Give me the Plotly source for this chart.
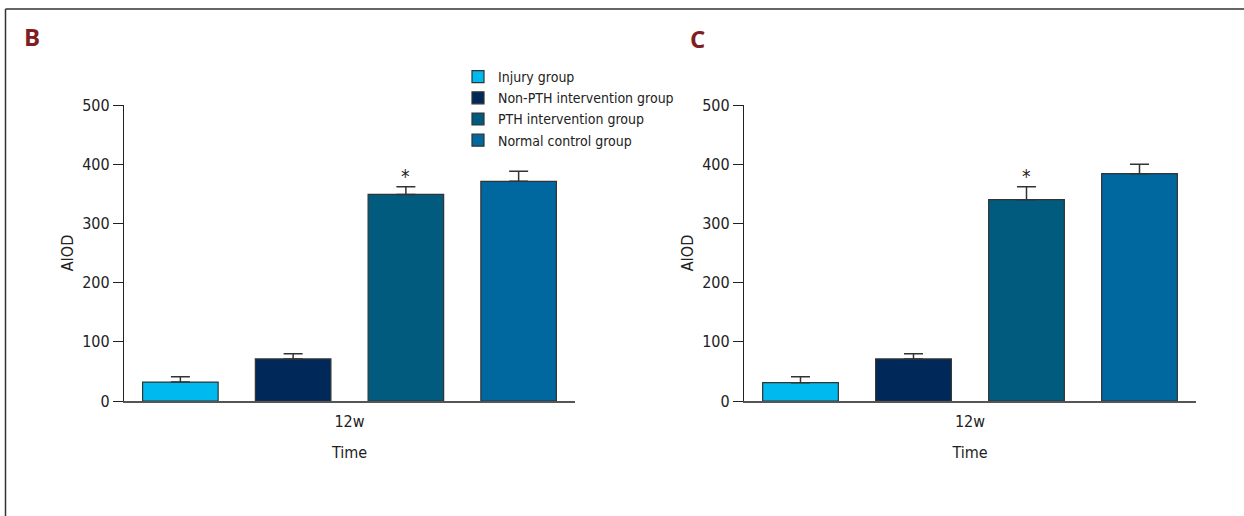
import plotly.graph_objects as go

W, H = 1244, 516

groups = ["Injury group", "Non-PTH intervention group", "PTH intervention group", "Normal control group"]
colors = ["#00B9EF", "#00295A", "#005B7E", "#00679F"]

b_means = [32, 71, 349, 371]
b_errs = [9, 9, 13, 17]
c_means = [31, 71, 340, 384]
c_errs = [10, 9, 22, 16]
signif = ["", "", "*", ""]

time_label = ["12w"]
y_ticks = [0, 100, 200, 300, 400, 500]

FONT = "Liberation Sans Narrow, DejaVu Sans Condensed, Arial Narrow, sans-serif"

def px_x(p):
    return p / W

def px_y(p):
    return 1 - p / H

fig = go.Figure()

panels = [("x", "y", b_means, b_errs, True), ("x2", "y2", c_means, c_errs, False)]
for xa, ya, means, errs, show in panels:
    for g, c, m, e in zip(groups, colors, means, errs):
        fig.add_trace(go.Bar(
            x=[g], y=[m], name=g, xaxis=xa, yaxis=ya,
            marker=dict(color=c, line=dict(color="#333333", width=1.2)),
            error_y=dict(type="data", array=[e], arrayminus=[0], symmetric=False,
                         color="#333333", thickness=1.5, width=9.5),
            showlegend=show, legendgroup=g,
        ))
    for g, m, e, s in zip(groups, means, errs, signif):
        if s:
            fig.add_annotation(x=g, y=m + e, xref=xa, yref=ya, text=s, showarrow=False,
                               yanchor="bottom", yshift=-2,
                               font=dict(family=FONT, size=19, color="#222222"))

axis_common_x = dict(
    type="category", categoryorder="array", categoryarray=groups,
    range=[-0.5, 3.5], tickmode="array", tickvals=[1.5], ticktext=time_label,
    showline=True, linecolor="#555555", linewidth=1.6, ticks="", showgrid=False,
    zeroline=False, tickfont=dict(family=FONT, size=16, color="#222222"),
    ticklabelstandoff=5,
    title=dict(text="Time", font=dict(family=FONT, size=16, color="#222222"), standoff=17),
    automargin=False, fixedrange=True,
)
axis_common_y = dict(
    range=[0, 500], tickmode="array", tickvals=y_ticks,
    showline=True, linecolor="#222222", linewidth=1.3, ticks="outside", ticklen=10,
    tickcolor="#222222", tickwidth=1.3, showgrid=False, zeroline=False,
    tickfont=dict(family=FONT, size=16, color="#222222"),
    title=dict(text="AIOD", font=dict(family=FONT, size=16, color="#222222"), standoff=4),
    automargin=False, fixedrange=True,
)

ydom = [px_y(401), px_y(105)]
fig.update_layout(
    width=W, height=H, margin=dict(l=0, r=0, t=0, b=0),
    paper_bgcolor="white", plot_bgcolor="white",
    barmode="overlay", bargap=0.33,
    font=dict(family=FONT, size=16, color="#222222"),
    xaxis=dict(domain=[px_x(124), px_x(575)], anchor="y", **axis_common_x),
    yaxis=dict(domain=ydom, anchor="x", **axis_common_y),
    xaxis2=dict(domain=[px_x(744), px_x(1196)], anchor="y2", **axis_common_x),
    yaxis2=dict(domain=ydom, anchor="x2", **axis_common_y),
    legend=dict(x=px_x(458), y=px_y(61), xanchor="left", yanchor="top",
                font=dict(family=FONT, size=14, color="#222222"),
                tracegroupgap=0, bgcolor="rgba(0,0,0,0)", itemclick=False),
    showlegend=True,
)

for label, cx, cy in [("B", 32, 36), ("C", 698, 38)]:
    fig.add_annotation(x=px_x(cx), y=px_y(cy), xref="paper", yref="paper", text=f"<b>{label}</b>",
                       showarrow=False, xanchor="center", yanchor="middle",
                       font=dict(family="Open Sans, DejaVu Sans, sans-serif", size=24, color="#7F1E22"))

# outer frame (top and left edges)
fig.add_shape(type="line", xref="paper", yref="paper", x0=px_x(5.5), x1=1, y0=px_y(9), y1=px_y(9),
              line=dict(color="#333333", width=1.5))
fig.add_shape(type="line", xref="paper", yref="paper", x0=px_x(5.5), x1=px_x(5.5), y0=0, y1=px_y(9),
              line=dict(color="#333333", width=1.5))

fig.write_html("out.html", config=dict(displayModeBar=False))
